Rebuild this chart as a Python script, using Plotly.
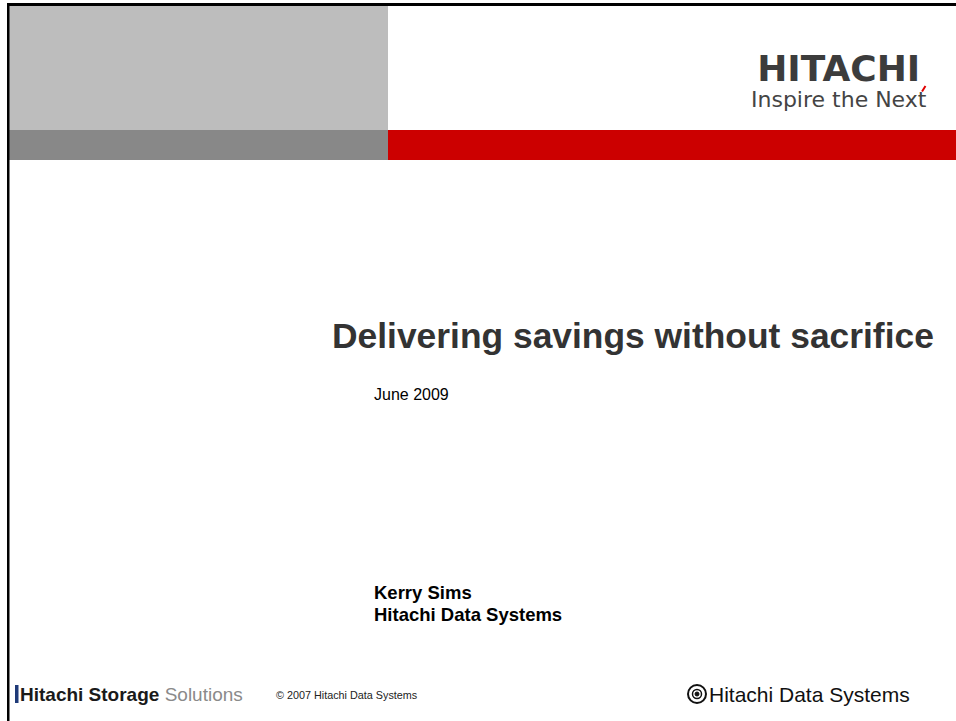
import plotly.graph_objects as go

# ---- slide content ----
title_text = "Delivering savings without sacrifice"
date_text = "June 2009"
presenter_lines = ["Kerry Sims", "Hitachi Data Systems"]
logo_lines = ["HITACHI", "Inspire the Next"]
footer_left = ["Hitachi Storage", "Solutions"]
footer_mid = "© 2007 Hitachi Data Systems"
footer_right = "Hitachi Data Systems"

W, H = 956, 721
fig = go.Figure()
fig.add_trace(go.Scatter(x=[], y=[], mode="markers", showlegend=False))

shapes = []
def rect(x0, y0, x1, y1, color):
    shapes.append(dict(type="rect", xref="x", yref="y", x0=x0, y0=y0, x1=x1, y1=y1,
                       fillcolor=color, line=dict(width=0), layer="below"))

# header bands
rect(9, 6, 388, 130, "#BDBDBD")
rect(9, 130, 388, 160, "#888888")
rect(388, 130, W, 160, "#CC0000")
# frame lines
rect(7, 3, W, 6, "#000000")
rect(7, 3, 9.5, H, "#000000")
# footer bar
rect(15, 685, 18.5, 703, "#1F3A78")
# red accent of logo
shapes.append(dict(type="line", xref="x", yref="y", x0=922, y0=91.5, x1=925.5, y1=86,
                   line=dict(color="#E00000", width=2)))
# Hitachi mark in footer
shapes.append(dict(type="circle", xref="x", yref="y", x0=688, y0=685, x1=706, y1=703,
                   line=dict(color="#111111", width=2), fillcolor="white"))
shapes.append(dict(type="circle", xref="x", yref="y", x0=692.5, y0=689.5, x1=701.5, y1=698.5,
                   line=dict(color="#111111", width=1.5), fillcolor="white"))
shapes.append(dict(type="circle", xref="x", yref="y", x0=695, y0=692, x1=699, y1=696,
                   line=dict(color="#111111", width=1), fillcolor="#111111"))

ann = []
def text(x, y, s, size, color="#000000", family="Liberation Sans, Arial", anchor="left"):
    ann.append(dict(x=x, y=y, xref="x", yref="y", text=s, showarrow=False,
                    xanchor=anchor, yanchor="middle",
                    font=dict(size=size, color=color, family=family)))

logo = ("<span style='font-size:36px;color:#3C3C3C'><b>%s</b></span><br>"
        "<span style='font-size:22px;color:#444444'>%s</span>") % tuple(logo_lines)
text(839, 80, logo, 20, "#3C3C3C", "DejaVu Sans", "center")
text(330, 336, "<b>%s</b>" % title_text, 35.4, "#333333")
text(372, 394, date_text, 16, "#000000")
text(372, 592, "<b>%s</b>" % presenter_lines[0], 18.5, "#000000")
text(372, 614, "<b>%s</b>" % presenter_lines[1], 18.5, "#000000")
text(18, 694, "<b>%s</b> <span style='color:#8A8A8A'>%s</span>" % tuple(footer_left), 19,
     "#1A1A1A", "Liberation Sans, Arial")
text(274, 695, footer_mid, 10.8, "#222222")
text(707, 694, footer_right, 21, "#111111", "Liberation Sans, Arial")

fig.update_layout(
    width=W, height=H, margin=dict(l=0, r=0, t=0, b=0),
    paper_bgcolor="white", plot_bgcolor="white",
    xaxis=dict(range=[0, W], visible=False, fixedrange=True),
    yaxis=dict(range=[H, 0], visible=False, fixedrange=True),
    shapes=shapes, annotations=ann, showlegend=False,
)
fig.write_html("out.html", config={"displayModeBar": False},
               post_script="document.body.style.margin='0';document.body.style.overflow='hidden';")
